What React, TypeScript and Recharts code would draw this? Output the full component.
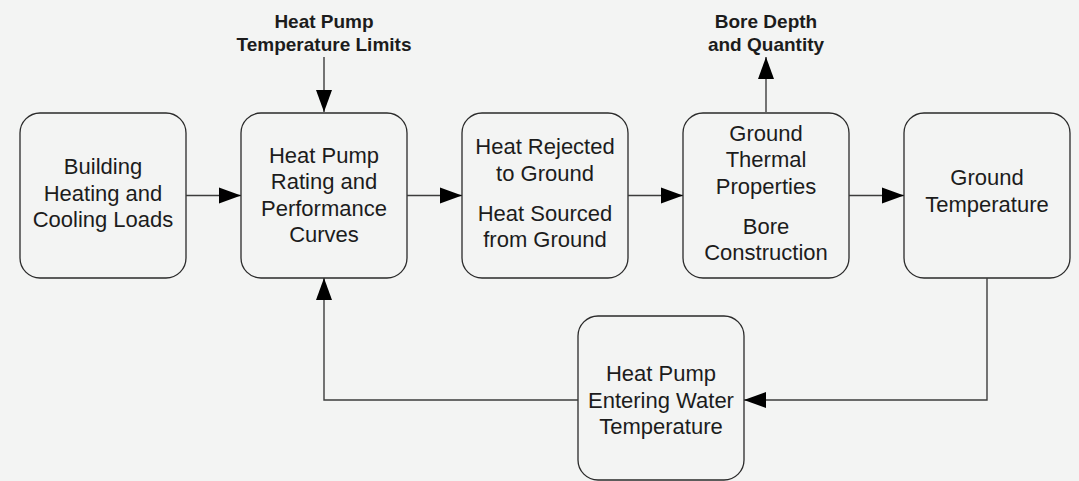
import React from "react";
import { ScatterChart, Scatter, XAxis, YAxis, ReferenceArea } from "recharts";

// flowchart nodes: label groups (a gap between groups) and their centres
const nodeIds = ["loads", "rating", "heat", "ground", "gtemp", "ewt"];
const nodeLabels: string[][][] = [
  [["Building", "Heating and", "Cooling Loads"]],
  [["Heat Pump", "Rating and", "Performance", "Curves"]],
  [["Heat Rejected", "to Ground"], ["Heat Sourced", "from Ground"]],
  [["Ground", "Thermal", "Properties"], ["Bore", "Construction"]],
  [["Ground", "Temperature"]],
  [["Heat Pump", "Entering Water", "Temperature"]],
];
const nodeX = [103, 324, 545, 766, 987, 661];
const nodeY = [195.5, 195.5, 195.5, 195.5, 195.5, 398];
const nodeTextY = [193, 195, 193, 193, 191, 400];
const nodeHalfW = 83;
const nodeHalfH = [82.5, 82.5, 82.5, 82.5, 82.5, 82];

// side inputs / outputs written above the chart
const sideLabels = [
  ["Heat Pump", "Temperature Limits"],
  ["Bore Depth", "and Quantity"],
];
const sideX = [324, 766];
const sideY = [32.5, 32.5];

// connectors: polylines, arrowhead at the last point
const edges: { pts: [number, number][]; dir: string }[] = [
  { pts: [[186, 195.5], [241, 195.5]], dir: "right" },
  { pts: [[407, 195.5], [462, 195.5]], dir: "right" },
  { pts: [[628, 195.5], [683, 195.5]], dir: "right" },
  { pts: [[849, 195.5], [904, 195.5]], dir: "right" },
  { pts: [[987, 278], [987, 400], [744, 400]], dir: "left" },
  { pts: [[578, 400], [324, 400], [324, 278]], dir: "up" },
  { pts: [[324, 57], [324, 112]], dir: "down" },
  { pts: [[766, 112], [766, 57]], dir: "up" },
];

const W = 1079;
const H = 481;
const FONT = "'Liberation Sans', Arial, sans-serif";
const INK = "#1c1c1c";
const LINE = "#3c3c3c";

const nodes = nodeIds.map((id, i) => ({
  id,
  x: nodeX[i],
  y: nodeTextY[i],
  groups: nodeLabels[i],
}));

const sides = sideLabels.map((lines, i) => ({ x: sideX[i], y: sideY[i], lines }));

const NodeText = (props: any) => {
  const { cx, cy, payload } = props;
  const lh = 26.5;
  const gap = 13.5;
  const groups: string[][] = payload.groups;
  const count = groups.reduce((s, g) => s + g.length, 0);
  const total = (count - 1) * lh + (groups.length - 1) * gap;
  let y = cy - total / 2;
  const out: React.ReactNode[] = [];
  groups.forEach((g, gi) => {
    g.forEach((line, li) => {
      out.push(
        <text
          key={`${gi}-${li}`}
          x={cx}
          y={y}
          textAnchor="middle"
          dominantBaseline="central"
          fontFamily={FONT}
          fontSize={22}
          fill={INK}
        >
          {line}
        </text>
      );
      y += lh;
    });
    y += gap;
  });
  return <g>{out}</g>;
};

const SideText = (props: any) => {
  const { cx, cy, payload } = props;
  const lh = 23;
  const lines: string[] = payload.lines;
  const start = cy - ((lines.length - 1) * lh) / 2;
  return (
    <g>
      {lines.map((l, i) => (
        <text
          key={i}
          x={cx}
          y={start + i * lh}
          textAnchor="middle"
          dominantBaseline="central"
          fontFamily={FONT}
          fontSize={19}
          fontWeight="bold"
          fill={INK}
        >
          {l}
        </text>
      ))}
    </g>
  );
};

const ArrowHead = (props: any) => {
  const { cx, cy, payload } = props;
  if (!payload.head) return <g />;
  const L = 22;
  const h = 8;
  let pts = "";
  switch (payload.head) {
    case "right":
      pts = `${cx},${cy} ${cx - L},${cy - h} ${cx - L},${cy + h}`;
      break;
    case "left":
      pts = `${cx},${cy} ${cx + L},${cy - h} ${cx + L},${cy + h}`;
      break;
    case "up":
      pts = `${cx},${cy} ${cx - h},${cy + L} ${cx + h},${cy + L}`;
      break;
    default:
      pts = `${cx},${cy} ${cx - h},${cy - L} ${cx + h},${cy - L}`;
  }
  return <polygon points={pts} fill="#000" />;
};

export default function App() {
  return (
    <div style={{ position: "absolute", left: 0, top: 0, width: W, height: H, background: "#f3f4f3" }}>
      <ScatterChart width={W} height={H} margin={{ top: 0, right: 0, bottom: 0, left: 0 }}>
        <XAxis type="number" dataKey="x" domain={[0, W]} hide allowDataOverflow />
        <YAxis type="number" dataKey="y" domain={[0, H]} reversed hide allowDataOverflow />
        {nodes.map((n, i) => (
          <ReferenceArea
            key={n.id}
            x1={nodeX[i] - nodeHalfW}
            x2={nodeX[i] + nodeHalfW}
            y1={nodeY[i] - nodeHalfH[i]}
            y2={nodeY[i] + nodeHalfH[i]}
            radius={20}
            fill="none"
            fillOpacity={1}
            stroke="#2a2a2a"
            strokeWidth={1.3}
            ifOverflow="visible"
          />
        ))}
        {edges.map((e, i) => (
          <Scatter
            key={`edge-${i}`}
            data={e.pts.map((p, j) => ({ x: p[0], y: p[1], head: j === e.pts.length - 1 ? e.dir : null }))}
            line={{ stroke: LINE, strokeWidth: 1.4 }}
            shape={ArrowHead}
            isAnimationActive={false}
          />
        ))}
        <Scatter data={nodes} shape={NodeText} isAnimationActive={false} />
        <Scatter data={sides} shape={SideText} isAnimationActive={false} />
      </ScatterChart>
    </div>
  );
}
